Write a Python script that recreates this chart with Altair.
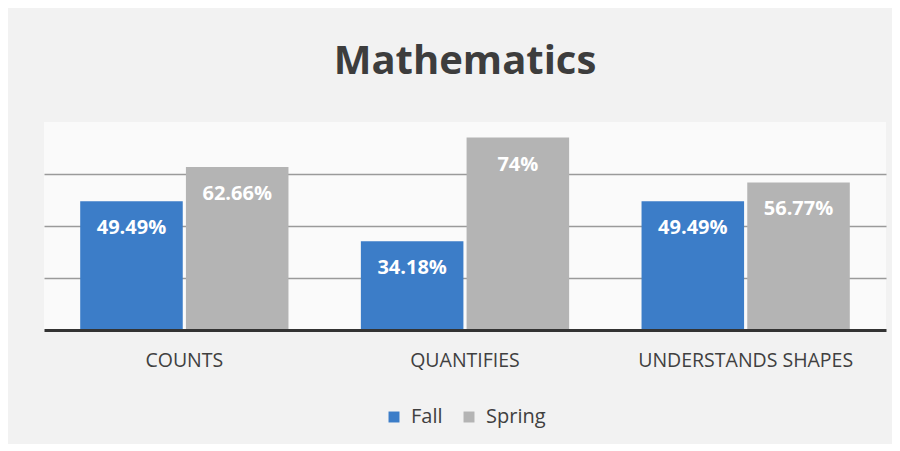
import altair as alt
import pandas as pd

categories = ["COUNTS", "QUANTIFIES", "UNDERSTANDS SHAPES"]
series = ["Fall", "Spring"]
fall = [49.49, 34.18, 49.49]
spring = [62.66, 74.0, 56.77]
colors = ["#3c7dc8", "#b4b4b4"]
grid_values = [20, 40, 60]

rows = []
for c, f, s in zip(categories, fall, spring):
    rows.append({"category": c, "series": "Fall", "value": f})
    rows.append({"category": c, "series": "Spring", "value": s})
df = pd.DataFrame(rows)
df["label"] = df["value"].map(lambda v: f"{v:g}%")

FONT = "Open Sans"

x = alt.X(
    "category:N",
    sort=categories,
    scale=alt.Scale(paddingInner=0.258, paddingOuter=0.129),
    axis=alt.Axis(
        title=None, labelAngle=0, ticks=False, labelPadding=21,
        labelFontSize=19.5, labelColor="#404040", labelFont=FONT,
        labelLimit=0, domainColor="#333333", domainWidth=3, zindex=1,
    ),
)
xo = alt.XOffset("series:N", sort=series, scale=alt.Scale(paddingInner=0.03))
y = alt.Y(
    "value:Q",
    scale=alt.Scale(domain=[0, 80]),
    axis=alt.Axis(
        title=None, labels=False, ticks=False, domain=False,
        values=grid_values, gridColor="#9a9a9a", gridWidth=1.5,
    ),
)

bars = alt.Chart(df).mark_bar().encode(
    x=x,
    xOffset=xo,
    y=y,
    color=alt.Color(
        "series:N",
        sort=series,
        scale=alt.Scale(domain=series, range=colors),
        legend=alt.Legend(
            title=None, orient="none", direction="horizontal",
            legendX=340, legendY=285, symbolType="square", symbolSize=120,
            symbolStrokeWidth=0, labelFontSize=20, labelFont=FONT,
            labelColor="#404040", columnPadding=16, labelOffset=7,
        ),
    ),
)

text = alt.Chart(df).mark_text(
    dy=27, fontSize=20, fontWeight="bold", color="white", font=FONT
).encode(x=x, xOffset=xo, y=y, text="label:N")

chart = (
    alt.layer(bars, text)
    .properties(
        width=842,
        height=208,
        padding={"top": 34, "left": 36, "right": 6, "bottom": 17},
        background="#f2f2f2",
        title=alt.TitleParams(
            "Mathematics", fontSize=40, font=FONT, fontWeight="bold",
            color="#3d3d3d", anchor="middle", baseline="alphabetic", offset=8,
        ),
    )
    .configure_view(stroke=None, fill="#fafafa")
)

chart.save("out.html", embed_options={"renderer": "svg", "actions": False})
